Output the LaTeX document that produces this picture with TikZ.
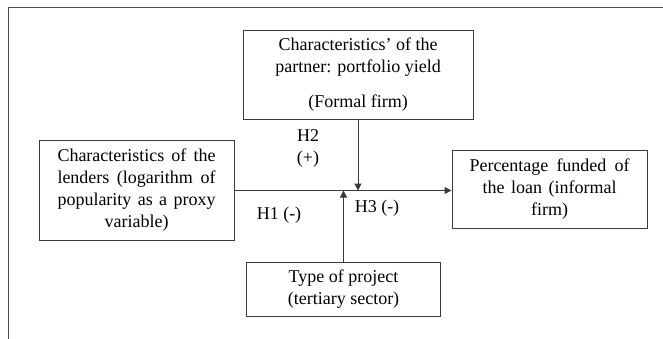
\documentclass[tikz,border=0pt]{standalone}
\usepackage{fontspec}
\setmainfont{Liberation Serif}
\usetikzlibrary{arrows.meta}
\definecolor{linec}{HTML}{3A3A3A}
\definecolor{framec}{HTML}{505050}
\tikzset{
  box/.style={draw=linec, line width=1pt, inner sep=0pt, align=center, font=\fontsize{18}{22}\selectfont, text=black},
  conn/.style={draw=linec, line width=1pt, -{Triangle[length=7pt,width=7pt]}},
  lbl/.style={font=\fontsize{18}{22}\selectfont, text=black, inner sep=0pt, align=center}
}
\begin{document}
\begin{tikzpicture}[x=1pt,y=-1pt]
\useasboundingbox (0,0) rectangle (663,339);
\draw[framec, line width=1pt] (8,339) -- (8,8) -- (663,8);
\node[box, minimum width=230pt, minimum height=89pt] (top) at (358,75)
  {Characteristics’ of the\\ partner: portfolio yield\\[13pt] (Formal firm)};
\node[box, minimum width=195pt, minimum height=100pt] (left) at (136.5,190.5)
  {\makebox[158pt][s]{Characteristics of the}\\ \makebox[158pt][s]{lenders (logarithm of}\\ \makebox[158pt][s]{popularity as a proxy}\\ variable)};
\node[box, minimum width=195pt, minimum height=78pt] (right) at (549.5,189.5)
  {\makebox[160pt][s]{Percentage funded of}\\ \makebox[134pt][s]{the loan (informal}\\ firm)};
\node[box, minimum width=194pt, minimum height=54pt] (bot) at (343.5,289)
  {Type of project\\ (tertiary sector)};
\coordinate (jd) at (358,190.5);
\coordinate (ju) at (343.5,190.5);
\draw[conn] (left.east |- jd) -- (right.west |- jd);
\draw[conn] (top.south -| jd) -- (jd);
\draw[conn] (bot.north -| ju) -- (ju);
\node[lbl] (h2) at (308,148) {H2\\(+)};
\node[lbl] (h1) at (279,215) {H1 (-)};
\node[lbl] (h3) at (377,208) {H3 (-)};
\end{tikzpicture}
\end{document}
